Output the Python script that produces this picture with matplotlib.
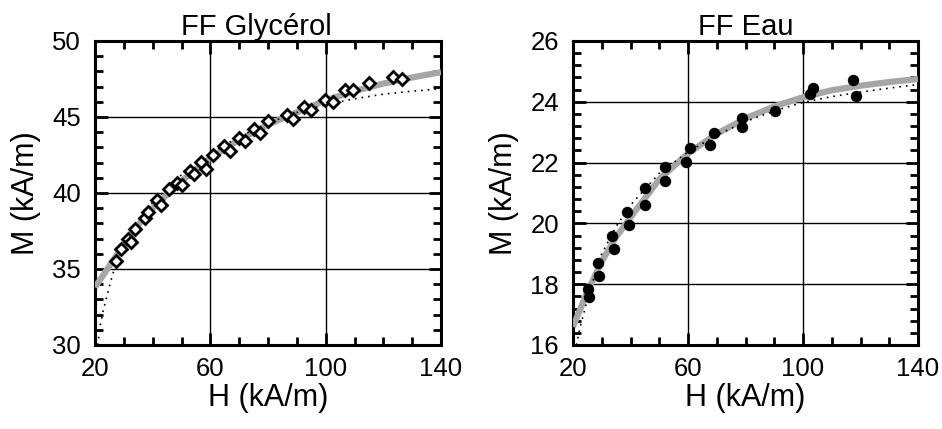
import matplotlib
matplotlib.use("Agg")
import matplotlib.pyplot as plt
from matplotlib.ticker import MultipleLocator

plt.rcParams['font.family'] = ['Liberation Sans', 'DejaVu Sans']

# ---- FF Glycérol data ----
gly_H = [27.3, 29.0, 31.6, 32.5, 33.9, 37.3, 38.5, 41.6, 42.8, 45.8, 48.3, 50.1,
         52.9, 54.3, 56.8, 58.4, 60.8, 64.7, 66.8, 69.9, 72.0, 75.3, 77.2, 80.1,
         86.5, 88.6, 92.6, 94.8, 99.8, 102.4, 106.7, 109.6, 115.1, 123.2, 126.4]
gly_M = [35.54, 36.31, 36.97, 36.75, 37.65, 38.35, 38.75, 39.52, 39.21, 40.26, 40.66, 40.55,
         41.43, 41.27, 42.02, 41.58, 42.53, 43.08, 42.79, 43.63, 43.41, 44.18, 43.96, 44.73,
         45.10, 44.84, 45.67, 45.45, 46.15, 45.98, 46.75, 46.75, 47.25, 47.63, 47.47]
gly_fit_H = [20, 25, 30, 35, 40, 50, 60, 70, 80, 90, 100, 110, 120, 130, 140]
gly_fit_M = [33.8, 35.2, 36.6, 37.9, 39.0, 40.8, 42.3, 43.5, 44.5, 45.3, 46.1, 46.7, 47.2, 47.6, 47.95]
gly_dot_H = [21.0, 21.7, 22.9, 24.1, 25.2, 26.3, 27.2, 28.5, 30, 35, 40, 50, 60, 70, 80, 90,
             100, 110, 120, 130, 140]
gly_dot_M = [30.0, 31.2, 32.3, 33.2, 34.0, 34.75, 35.2, 35.8, 36.5, 38.2, 39.4, 41.2, 42.6,
             43.7, 44.6, 45.3, 45.8, 46.2, 46.5, 46.7, 46.85]

# ---- FF Eau data ----
eau_H = [25.2, 25.6, 28.7, 28.9, 33.7, 34.1, 38.8, 39.4, 44.9, 44.9, 51.9, 51.9,
         59.2, 60.6, 67.5, 68.9, 78.8, 78.8, 90.1, 102.3, 103.5, 117.4, 118.5]
eau_M = [17.83, 17.58, 18.71, 18.27, 19.58, 19.15, 20.37, 19.96, 21.17, 20.59, 21.87, 21.39,
         22.01, 22.48, 22.58, 22.99, 23.46, 23.18, 23.70, 24.25, 24.47, 24.71, 24.20]
eau_fit_H = [20, 25, 30, 35, 40, 50, 60, 70, 80, 90, 100, 110, 120, 130, 140]
eau_fit_M = [16.6, 17.75, 18.75, 19.55, 20.2, 21.45, 22.3, 22.95, 23.45, 23.85, 24.15, 24.38,
             24.53, 24.65, 24.75]
eau_dot_H = [21.2, 22.5, 23.5, 24.6, 26, 28, 30, 35, 40, 50, 60, 70, 80, 90, 100, 110, 120,
             130, 140]
eau_dot_M = [16.0, 16.6, 16.95, 17.35, 17.8, 18.45, 19.0, 19.9, 20.6, 21.65, 22.35, 22.9,
             23.35, 23.7, 23.98, 24.17, 24.32, 24.45, 24.57]

titles = ["FF Glycérol", "FF Eau"]
x_ticks = [20, 60, 100, 140]

W, Hh = 942, 429
fig = plt.figure(figsize=(W / 100, Hh / 100), dpi=100)
ax1 = fig.add_axes([95 / W, (Hh - 345) / Hh, 346 / W, 304 / Hh])
ax2 = fig.add_axes([573 / W, (Hh - 345) / Hh, 345 / W, 304 / Hh])

TFS = 18.5
LFS = 22
gray = '#a6a6a6'

def style(ax, ylim, ymaj, ymin, title, tx):
    ax.set_xlim(20, 140)
    ax.set_ylim(*ylim)
    ax.set_xticks(x_ticks)
    ax.xaxis.set_minor_locator(MultipleLocator(10))
    ax.yaxis.set_major_locator(MultipleLocator(ymaj))
    ax.yaxis.set_minor_locator(MultipleLocator(ymin))
    ax.grid(True, which='major', color='black', linewidth=1.0)
    ax.tick_params(which='both', direction='in', top=True, right=True,
                   labelsize=TFS, width=2, colors='black')
    ax.tick_params(axis='x', which='both', pad=9)
    ax.tick_params(axis='y', which='both', pad=10)
    ax.tick_params(which='major', length=9)
    ax.tick_params(which='minor', length=6)
    for s in ax.spines.values():
        s.set_linewidth(2.2)
    ax.set_xlabel("H (kA/m)", fontsize=LFS, labelpad=1)
    ax.set_ylabel("M (kA/m)", fontsize=LFS, labelpad=8)
    ax.set_title(title, fontsize=21, pad=4, x=tx)

ax1.plot(gly_fit_H, gly_fit_M, color=gray, linewidth=4.5, zorder=3, solid_capstyle='butt')
ax1.plot(gly_dot_H, gly_dot_M, color='black', linewidth=1.2, linestyle=(0, (1, 3)), zorder=3)
ax1.plot(gly_H, gly_M, linestyle='none', marker='D', markersize=6.5, markerfacecolor='white',
         markeredgecolor='black', markeredgewidth=2.0, zorder=4)
style(ax1, (30, 50), 5, 1, titles[0], 0.465)

ax2.plot(eau_fit_H, eau_fit_M, color=gray, linewidth=4.5, zorder=3, solid_capstyle='butt')
ax2.plot(eau_dot_H, eau_dot_M, color='black', linewidth=1.2, linestyle=(0, (1, 3)), zorder=3)
ax2.plot(eau_H, eau_M, linestyle='none', marker='o', markersize=7.2, markerfacecolor='black',
         markeredgecolor='black', zorder=4)
style(ax2, (16, 26), 2, 0.4, titles[1], 0.5)

fig.savefig("out.png", dpi=100)
